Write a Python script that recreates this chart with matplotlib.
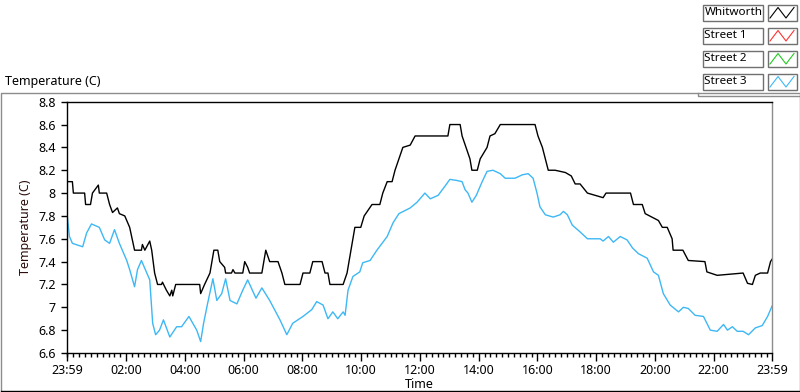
"""
Whitworth / street temperature trend, LabVIEW-style waveform chart.
"""
import matplotlib
matplotlib.use("Agg")
import matplotlib.pyplot as plt
from matplotlib.lines import Line2D
from matplotlib.patches import Rectangle

plt.rcParams["font.family"] = ["Noto Sans", "DejaVu Sans"]

W, H = 800, 392

# minutes since 23:59 of the previous day
whit_t = [0, 11, 13, 36, 38, 48, 52, 64, 66, 81, 87, 93, 103, 107, 118, 128,
          138, 152, 154, 159, 169, 173, 179, 185, 193, 195, 203, 210, 214, 216,
          222, 271, 273, 281, 292, 298, 300, 308, 312, 322, 324, 336, 339, 343,
          359, 363, 369, 373, 398, 402, 406, 414, 431, 439, 445, 476, 482, 496,
          502, 521, 527, 533, 537, 564, 572, 580, 588, 600, 607, 615, 623, 639,
          645, 654, 664, 670, 678, 686, 701, 711, 778, 782, 803, 807, 815, 823,
          827, 838, 844, 858, 864, 874, 885, 956, 962, 971, 977, 983, 997, 1018,
          1030, 1038, 1048, 1063, 1095, 1101, 1151, 1157, 1175, 1181, 1208, 1216,
          1226, 1236, 1238, 1258, 1269, 1303, 1307, 1328, 1381, 1390, 1400, 1406,
          1416, 1431, 1437, 1440]
whit_v = [8.1, 8.1, 8.0, 8.0, 7.9, 7.9, 8.0, 8.07, 8.0, 8.0, 7.9, 7.83, 7.87,
          7.82, 7.8, 7.7, 7.5, 7.5, 7.55, 7.5, 7.58, 7.5, 7.3, 7.2, 7.2, 7.22,
          7.15, 7.1, 7.15, 7.1, 7.2, 7.2, 7.12, 7.2, 7.3, 7.45, 7.5, 7.5, 7.4,
          7.35, 7.3, 7.3, 7.33, 7.3, 7.3, 7.4, 7.35, 7.3, 7.3, 7.4, 7.5, 7.4,
          7.4, 7.3, 7.2, 7.2, 7.3, 7.3, 7.4, 7.4, 7.3, 7.3, 7.2, 7.2, 7.3, 7.5,
          7.7, 7.7, 7.8, 7.85, 7.9, 7.9, 8.0, 8.1, 8.1, 8.2, 8.3, 8.4, 8.42, 8.5,
          8.5, 8.6, 8.6, 8.5, 8.4, 8.3, 8.2, 8.2, 8.3, 8.4, 8.5, 8.52, 8.6, 8.6,
          8.5, 8.4, 8.3, 8.2, 8.2, 8.18, 8.15, 8.08, 8.08, 8.0, 7.96, 8.0, 8.0,
          7.9, 7.9, 7.82, 7.76, 7.7, 7.7, 7.6, 7.5, 7.5, 7.41, 7.4, 7.31, 7.28,
          7.3, 7.21, 7.2, 7.28, 7.3, 7.3, 7.4, 7.42]

st3_t = [0, 5, 11, 32, 40, 50, 66, 77, 87, 97, 107, 122, 128, 138, 144, 152,
         163, 169, 175, 181, 189, 197, 210, 224, 234, 249, 265, 273, 279, 287,
         298, 306, 316, 324, 333, 347, 359, 369, 386, 398, 414, 435, 449, 461,
         482, 500, 510, 523, 533, 543, 553, 564, 568, 574, 584, 598, 604, 619,
         633, 654, 666, 678, 701, 715, 731, 742, 758, 772, 782, 797, 807, 813,
         819, 827, 836, 848, 858, 870, 885, 895, 915, 930, 942, 952, 960, 966,
         977, 993, 1007, 1014, 1022, 1032, 1048, 1063, 1089, 1095, 1106, 1116,
         1130, 1144, 1155, 1167, 1185, 1198, 1208, 1218, 1232, 1249, 1259, 1269,
         1283, 1300, 1314, 1328, 1341, 1349, 1359, 1369, 1381, 1392, 1406, 1420,
         1431, 1440]
st3_v = [7.82, 7.62, 7.56, 7.53, 7.65, 7.73, 7.70, 7.59, 7.56, 7.68, 7.56,
         7.41, 7.33, 7.18, 7.33, 7.41, 7.30, 7.24, 6.86, 6.76, 6.80, 6.89,
         6.74, 6.83, 6.83, 6.92, 6.80, 6.70, 6.86, 7.03, 7.25, 7.06, 7.12,
         7.25, 7.06, 7.03, 7.15, 7.24, 7.08, 7.17, 7.06, 6.89, 6.76, 6.86,
         6.92, 6.98, 7.05, 7.02, 6.90, 6.96, 6.90, 6.96, 6.93, 7.15, 7.27,
         7.31, 7.39, 7.41, 7.50, 7.62, 7.74, 7.82, 7.87, 7.92, 8.0, 7.95, 7.98,
         8.06, 8.12, 8.11, 8.10, 8.03, 8.0, 7.92, 7.98, 8.10, 8.19, 8.20, 8.17,
         8.13, 8.13, 8.16, 8.17, 8.13, 8.0, 7.88, 7.81, 7.79, 7.81, 7.84, 7.81,
         7.72, 7.66, 7.60, 7.60, 7.58, 7.62, 7.57, 7.62, 7.59, 7.52, 7.47, 7.43,
         7.31, 7.28, 7.12, 7.02, 6.96, 7.0, 6.99, 6.93, 6.92, 6.80, 6.79, 6.85,
         6.80, 6.83, 6.79, 6.79, 6.76, 6.82, 6.84, 6.92, 7.01]

legend_names = ["Whitworth", "Street 1", "Street 2", "Street 3"]
legend_colors = ["#000000", "#ff3333", "#22cc22", "#3db8f5"]

x_major = [0, 121, 241, 361, 481, 601, 721, 841, 961, 1081, 1201, 1321, 1440]
x_labels = ["23:59", "02:00", "04:00", "06:00", "08:00", "10:00", "12:00",
            "14:00", "16:00", "18:00", "20:00", "22:00", "23:59"]
y_major = [6.6, 6.8, 7.0, 7.2, 7.4, 7.6, 7.8, 8.0, 8.2, 8.4, 8.6, 8.8]
y_labels = ["6.6", "6.8", "7", "7.2", "7.4", "7.6", "7.8", "8", "8.2", "8.4",
            "8.6", "8.8"]

FS = 9
GRAY = "#8c8c8c"


def fx(px):
    return px / W


def fy(py):
    return 1 - py / H


fig = plt.figure(figsize=(W / 100, H / 100), dpi=100)
fig.patch.set_facecolor("white")

ax = fig.add_axes([fx(67), fy(353), fx(772 - 67), (353 - 101.7) / H])
ax.plot(whit_t, whit_v, color=legend_colors[0], lw=1.0)
ax.plot(st3_t, st3_v, color=legend_colors[3], lw=1.0)

ax.set_xlim(0, 1440)
ax.set_ylim(6.6, 8.8)
ax.set_xticks(x_major)
ax.set_xticklabels(x_labels, fontsize=FS)
minor = [m for m in range(1, 1440, 12) if m not in x_major]
ax.set_xticks(minor, minor=True)
ax.set_yticks(y_major)
ax.set_yticklabels(y_labels, fontsize=FS)
ax.tick_params(axis="x", which="major", length=6, width=1, pad=2)
ax.tick_params(axis="x", which="minor", length=3, width=1)
ax.tick_params(axis="y", which="major", length=4, width=1, pad=4)
for s in ["left", "bottom", "top"]:
    ax.spines[s].set_color("black")
    ax.spines[s].set_linewidth(1)
ax.spines["right"].set_color(GRAY)
ax.spines["right"].set_linewidth(1)

ax.set_xlabel("Time", fontsize=FS)
ax.xaxis.set_label_coords(0.5, -0.1)
ax.set_ylabel("Temperature (C)", fontsize=FS, color="#2a0c0c")
ax.yaxis.set_label_coords(-0.05, 0.5)

# chart frame
fig.add_artist(Line2D([fx(0.5), fx(0.5), fx(799.5), fx(799.5)],
                      [fy(390), fy(92.5), fy(92.5), fy(390)],
                      transform=fig.transFigure, color=GRAY, lw=1))
fig.add_artist(Line2D([fx(0.5), fx(799.5)], [fy(390.5), fy(390.5)],
                      transform=fig.transFigure, color="black", lw=1))
fig.text(fx(5), fy(82), "Temperature (C)", fontsize=FS, va="center", ha="left")

# legend panel over the frame corner
fig.add_artist(Rectangle((fx(698), fy(95.5)), fx(101), 95.5 / H,
                         transform=fig.transFigure, facecolor="white",
                         edgecolor="none"))
fig.add_artist(Line2D([fx(698), fx(698), fx(799.5)], [fy(92.5), fy(95.5), fy(95.5)],
                      transform=fig.transFigure, color=GRAY, lw=1))

for i, (name, col) in enumerate(zip(legend_names, legend_colors)):
    top = 4.5 + 23 * i
    bot = top + 16.5
    fig.add_artist(Rectangle((fx(702.5), fy(bot)), fx(60), 16.5 / H,
                             transform=fig.transFigure, facecolor="white",
                             edgecolor="#707070", lw=1))
    fig.text(fx(704.5), fy((top + bot) / 2), name, fontsize=8.4,
             va="center", ha="left")
    fig.add_artist(Rectangle((fx(767.5), fy(bot)), fx(29), 16.5 / H,
                             transform=fig.transFigure, facecolor="white",
                             edgecolor="#707070", lw=1))
    zx = [770, 778, 786, 794]
    zy = [bot - 3, top + 3, bot - 3, top + 3]
    fig.add_artist(Line2D([fx(v) for v in zx], [fy(v) for v in zy],
                          transform=fig.transFigure, color=col, lw=0.8))

fig.savefig("out.png", dpi=100, facecolor="white")
